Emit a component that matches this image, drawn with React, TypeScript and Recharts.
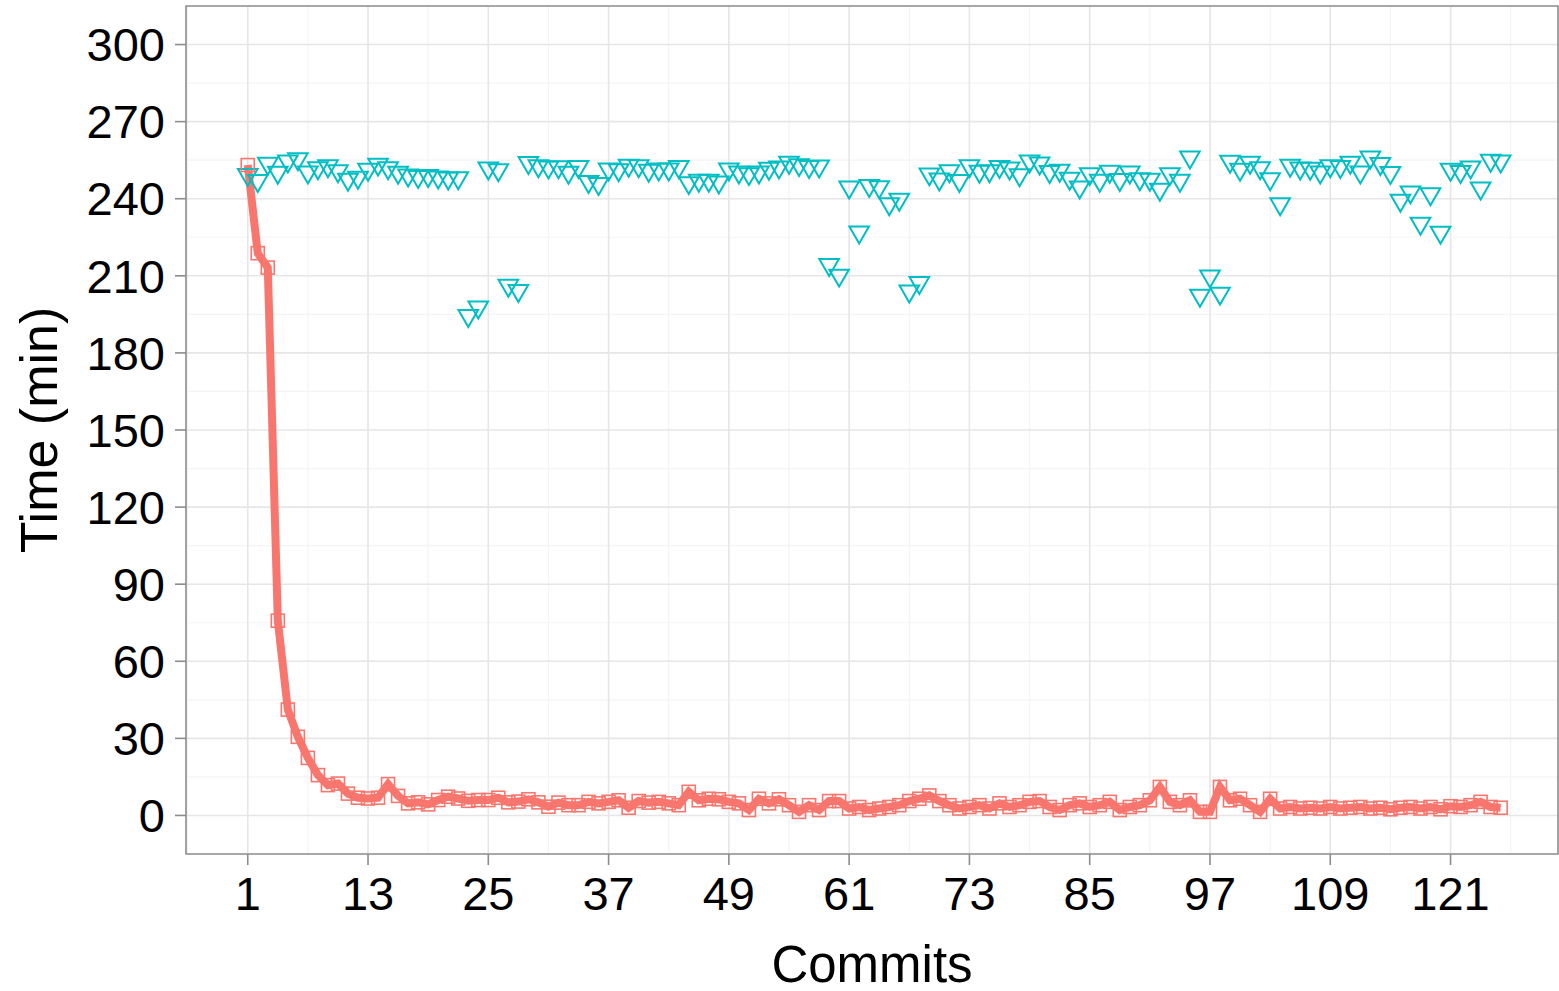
import {
  ComposedChart,
  Line,
  XAxis,
  YAxis,
  CartesianGrid,
  ReferenceArea,
} from "recharts";

document.body.style.margin = "0";

// time per commit (minutes)
const incrementalTimes = [
  253.1, 218.8, 213.2, 75.8, 41.2, 30.6, 22.4, 15.7, 11.8, 12.4,
  8.5, 6.9, 6.6, 6.9, 12.2, 7.6, 4.7, 5.1, 4.3, 6.0,
  7.3, 6.6, 5.7, 6.0, 6.0, 6.9, 5.1, 5.4, 6.3, 5.1,
  3.4, 5.0, 4.0, 4.0, 5.3, 4.7, 5.3, 5.9, 3.0, 5.6,
  5.0, 5.3, 4.7, 4.0, 9.2, 5.9, 6.5, 6.3, 5.3, 4.7,
  2.1, 6.5, 4.7, 6.3, 4.0, 1.4, 4.0, 2.1, 5.6, 5.6,
  2.7, 3.3, 2.1, 2.7, 3.3, 4.0, 5.6, 6.5, 7.8, 5.6,
  4.0, 2.7, 3.3, 4.0, 2.7, 4.7, 3.3, 4.0, 5.3, 5.6,
  3.3, 2.1, 4.0, 4.7, 3.3, 4.0, 5.3, 2.1, 3.3, 4.0,
  5.9, 11.1, 5.3, 4.0, 5.9, 1.4, 1.4, 11.1, 5.9, 6.5,
  4.0, 1.4, 6.5, 2.7, 3.3, 2.7, 3.0, 2.7, 3.3, 2.7,
  3.0, 3.3, 2.7, 3.0, 2.4, 3.0, 3.3, 2.7, 3.3, 2.4,
  3.6, 3.3, 4.0, 5.3, 3.3, 3.0,
];

const fullTimes = [
  249.4, 247.0, 253.7, 250.2, 254.6, 255.5, 250.3, 252.0, 252.8, 250.8,
  247.5, 248.3, 251.4, 253.4, 252.0, 250.2, 249.2, 248.6, 249.0, 248.4,
  248.0, 248.1, 194.5, 197.8, 251.9, 251.2, 206.3, 204.2, 254.0, 252.8,
  252.3, 252.4, 250.2, 252.5, 246.6, 245.9, 251.5, 251.2, 253.0, 252.8,
  251.0, 251.5, 251.5, 252.5, 246.2, 247.1, 247.1, 246.4, 251.5, 250.3,
  249.7, 250.3, 251.8, 252.3, 254.1, 253.2, 252.5, 252.7, 214.3, 210.2,
  244.5, 227.0, 245.1, 244.6, 238.0, 239.7, 204.0, 207.3, 249.6, 247.6,
  250.8, 247.0, 252.8, 250.6, 250.8, 252.5, 251.9, 249.3, 254.6, 253.8,
  250.5, 251.0, 247.9, 244.5, 249.7, 247.1, 250.6, 247.4, 250.3, 247.7,
  247.5, 243.6, 249.7, 247.1, 256.2, 202.4, 209.9, 203.2, 254.5, 251.4,
  254.1, 252.0, 247.7, 238.0, 253.0, 251.9, 251.8, 250.3, 252.8, 252.5,
  254.1, 250.3, 256.2, 253.6, 250.1, 239.3, 242.6, 230.4, 241.9, 226.9,
  251.4, 250.5, 252.3, 244.1, 254.9, 254.6,
];

const xTicks = [1, 13, 25, 37, 49, 61, 73, 85, 97, 109, 121];
const xMinor = [-5, 7, 19, 31, 43, 55, 67, 79, 91, 103, 115, 127];
const yTicks = [0, 30, 60, 90, 120, 150, 180, 210, 240, 270, 300];
const yMinor = [15, 45, 75, 105, 135, 165, 195, 225, 255, 285];
const xDomain = [-5.16, 131.72];
const yDomain = [-15, 315];

const data = incrementalTimes.map((t, i) => ({
  commit: i + 1,
  incremental: t,
  full: fullTimes[i],
}));

const FONT = "'Liberation Sans', Arial, Helvetica, sans-serif";
const RED = "#F8766D";
const CYAN = "#00BFC4";
const BORDER = "#8c8c8c";

const SquareDot = (props: any) => {
  const { cx, cy, index } = props;
  if (cx == null || cy == null) return <g key={`s${index}`} />;
  return (
    <rect
      key={`s${index}`}
      x={cx - 6.5}
      y={cy - 6.5}
      width={13}
      height={13}
      fill="none"
      stroke={RED}
      strokeWidth={1.6}
    />
  );
};

const TriangleDot = (props: any) => {
  const { cx, cy, index } = props;
  if (cx == null || cy == null) return <g key={`t${index}`} />;
  const half = 9.8;
  const h = half * Math.sqrt(3);
  return (
    <path
      key={`t${index}`}
      d={`M${cx - half},${cy - h / 3}L${cx + half},${cy - h / 3}L${cx},${cy + (2 * h) / 3}Z`}
      fill="none"
      stroke={CYAN}
      strokeWidth={2}
    />
  );
};

const YTitle = (props: any) => {
  const vb = props.viewBox || { y: 6, height: 848 };
  const cy = vb.y + vb.height / 2;
  return (
    <text
      x={57}
      y={cy}
      transform={`rotate(-90 57 ${cy})`}
      textAnchor="middle"
      fontSize={52}
      fontFamily={FONT}
      fill="#000"
    >
      Time (min)
    </text>
  );
};

const XTitle = (props: any) => {
  const vb = props.viewBox || { x: 186, width: 1372 };
  return (
    <text
      x={vb.x + vb.width / 2}
      y={982}
      textAnchor="middle"
      fontSize={51}
      fontFamily={FONT}
      fill="#000"
    >
      Commits
    </text>
  );
};

export default function App() {
  return (
    <div style={{ width: 1559, height: 991, background: "#fff", fontFamily: FONT }}>
      <ComposedChart
        width={1559}
        height={991}
        data={data}
        margin={{ top: 6, right: 1, left: 0, bottom: 0 }}
      >
        <CartesianGrid
          stroke="#f4f4f4"
          strokeWidth={1.2}
          horizontalValues={yMinor}
          verticalValues={xMinor}
        />
        <CartesianGrid
          stroke="#e6e6e6"
          strokeWidth={1.6}
          horizontalValues={yTicks}
          verticalValues={xTicks}
        />
        <XAxis
          dataKey="commit"
          type="number"
          domain={xDomain}
          ticks={xTicks}
          allowDataOverflow
          height={137}
          axisLine={false}
          tickSize={11}
          tickMargin={12}
          tickLine={{ stroke: BORDER, strokeWidth: 1.6 }}
          tick={{ fill: "#000", fontSize: 47, fontFamily: FONT }}
          label={<XTitle />}
        />
        <YAxis
          type="number"
          domain={yDomain}
          ticks={yTicks}
          allowDataOverflow
          width={186}
          axisLine={false}
          tickSize={11}
          tickMargin={10}
          tickLine={{ stroke: BORDER, strokeWidth: 1.6 }}
          tick={{ fill: "#000", fontSize: 47, fontFamily: FONT }}
          label={<YTitle />}
        />
        <Line
          dataKey="full"
          type="linear"
          stroke="none"
          strokeWidth={0}
          dot={TriangleDot}
          activeDot={false}
          isAnimationActive={false}
        />
        <Line
          dataKey="incremental"
          type="linear"
          stroke={RED}
          strokeWidth={8}
          dot={SquareDot}
          activeDot={false}
          isAnimationActive={false}
        />
        <ReferenceArea
          x1={xDomain[0]}
          x2={xDomain[1]}
          y1={yDomain[0]}
          y2={yDomain[1]}
          fill="none"
          fillOpacity={0}
          stroke={BORDER}
          strokeWidth={1.6}
          ifOverflow="visible"
        />
      </ComposedChart>
    </div>
  );
}
